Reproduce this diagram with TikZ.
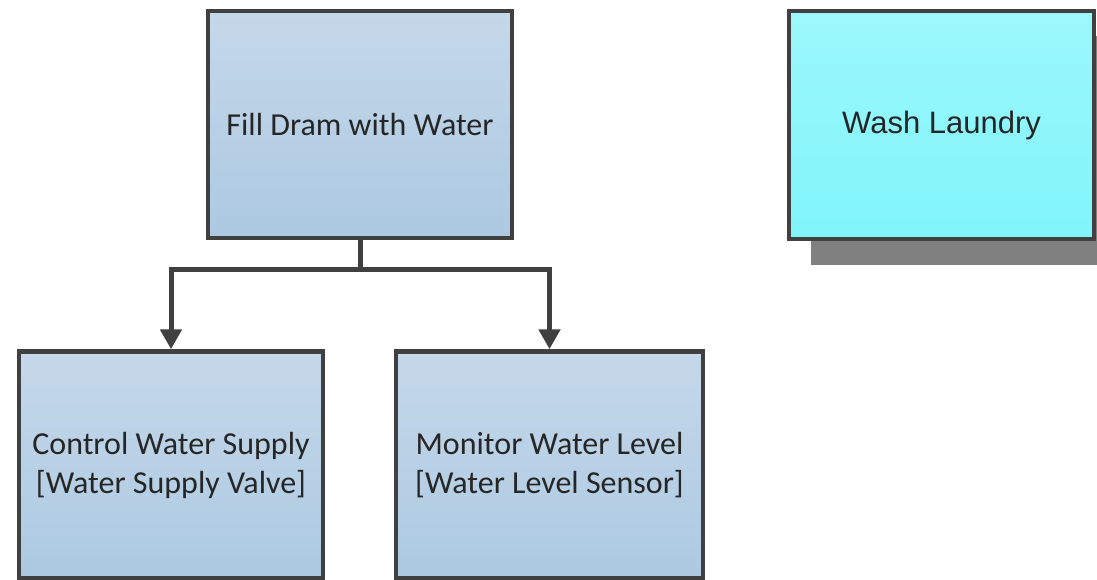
\documentclass[tikz,border=0pt]{standalone}
\usepackage{fontspec}
\setmainfont{Carlito}
\newfontfamily\arialfont{Liberation Sans}
\usetikzlibrary{arrows.meta,calc}
\definecolor{edgegray}{RGB}{64,64,64}
\definecolor{bluetop}{RGB}{197,216,233}
\definecolor{bluebot}{RGB}{172,201,226}
\definecolor{cyantop}{RGB}{156,248,252}
\definecolor{cyanbot}{RGB}{128,245,251}
\definecolor{shadowgray}{RGB}{128,128,128}
\tikzset{
  bluebox/.style={rectangle, draw=edgegray, line width=4.5pt, top color=bluetop, bottom color=bluebot,
    minimum width=304pt, minimum height=227pt, align=center, inner sep=0pt,
    font=\fontsize{32}{39}\selectfont, text=black!85},
  cyanbox/.style={rectangle, draw=edgegray, line width=4.5pt, top color=cyantop, bottom color=cyanbot,
    minimum width=305pt, minimum height=228pt, align=center, inner sep=0pt,
    font=\arialfont\fontsize{31}{36}\selectfont, text=black!85},
  conn/.style={draw=edgegray, line width=5pt, -{Triangle[length=20pt,width=21pt]}}
}
\begin{document}
\begin{tikzpicture}[x=1pt,y=-1pt]
\useasboundingbox (0,0) rectangle (1097,580);
\fill[shadowgray] (811,36) rectangle (1120,265);
\node[cyanbox] (wash) at (941.5,125) {Wash Laundry};
\node[bluebox] (fill) at (360,124.5) {Fill Dram with Water};
\node[bluebox] (ctrl) at (171,465) {Control Water Supply\\{}[Water Supply Valve]};
\node[bluebox, minimum width=307pt] (mon) at (549.5,465) {Monitor Water Level\\{}[Water Level Sensor]};
\coordinate (junc) at ($(fill.south)+(0,29)$);
\draw[conn] (fill.south) -- (junc) -| (ctrl.north);
\draw[conn] (fill.south) -- (junc) -| (mon.north);
\end{tikzpicture}
\end{document}
